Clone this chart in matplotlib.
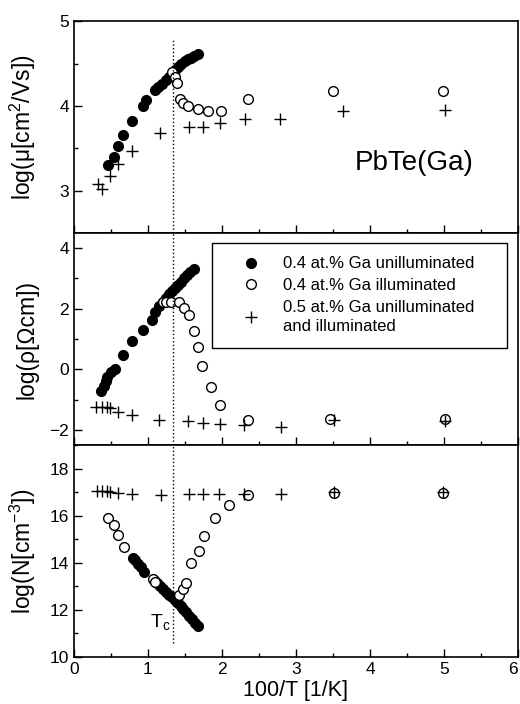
import matplotlib
matplotlib.use("Agg")
import matplotlib.pyplot as plt
from matplotlib.ticker import MultipleLocator

plt.rcParams['font.family'] = ['Liberation Sans', 'DejaVu Sans']
plt.rcParams['mathtext.fontset'] = 'custom'
plt.rcParams['mathtext.rm'] = 'Liberation Sans'
plt.rcParams['mathtext.it'] = 'Liberation Sans:italic'

# --- mobility, log(mu) ---
mu_fill_x = [0.46, 0.54, 0.59, 0.66, 0.79, 0.93, 0.97, 1.10, 1.14, 1.19, 1.24,
             1.29, 1.33, 1.37, 1.41, 1.45, 1.50, 1.54, 1.58, 1.62, 1.67]
mu_fill_y = [3.30, 3.40, 3.53, 3.66, 3.82, 4.00, 4.07, 4.19, 4.22, 4.26, 4.30,
             4.34, 4.38, 4.42, 4.46, 4.50, 4.53, 4.55, 4.57, 4.59, 4.61]
mu_open_x = [1.33, 1.37, 1.39, 1.43, 1.47, 1.54, 1.67, 1.81, 1.99, 2.35, 3.50, 4.99]
mu_open_y = [4.40, 4.34, 4.27, 4.08, 4.04, 4.00, 3.96, 3.94, 3.94, 4.08, 4.18, 4.18]
mu_plus_x = [0.32, 0.38, 0.48, 0.59, 0.79, 1.16, 1.55, 1.74, 1.98, 2.31, 2.79, 3.64, 5.02]
mu_plus_y = [3.08, 3.02, 3.17, 3.31, 3.47, 3.68, 3.75, 3.75, 3.80, 3.84, 3.84, 3.94, 3.95]

# --- resistivity, log(rho) ---
rho_fill_x = [0.37, 0.41, 0.43, 0.45, 0.50, 0.55, 0.66, 0.79, 0.93, 1.05, 1.09, 1.15,
              1.20, 1.25, 1.29, 1.33, 1.37, 1.41, 1.45, 1.49, 1.53, 1.57, 1.62]
rho_fill_y = [-0.72, -0.55, -0.40, -0.25, -0.10, 0.00, 0.48, 0.93, 1.30, 1.63, 1.90, 2.10,
              2.22, 2.35, 2.48, 2.60, 2.70, 2.80, 2.90, 3.00, 3.10, 3.20, 3.30]
rho_open_x = [1.20, 1.24, 1.31, 1.42, 1.49, 1.55, 1.62, 1.67, 1.73, 1.85, 1.97, 2.35, 3.46, 5.01]
rho_open_y = [2.21, 2.21, 2.23, 2.23, 2.03, 1.79, 1.28, 0.73, 0.11, -0.58, -1.19, -1.66, -1.65, -1.65]
rho_plus_x = [0.30, 0.38, 0.44, 0.48, 0.60, 0.78, 1.15, 1.54, 1.74, 1.97, 2.30, 2.80, 3.52, 5.01]
rho_plus_y = [-1.25, -1.25, -1.25, -1.27, -1.40, -1.51, -1.67, -1.72, -1.77, -1.81, -1.85, -1.90, -1.66, -1.70]

# --- carrier concentration, log(N) ---
n_fill_x = [0.80, 0.83, 0.87, 0.90, 0.94, 1.08, 1.12, 1.16, 1.20, 1.24, 1.28,
            1.32, 1.36, 1.40, 1.44, 1.48, 1.52, 1.56, 1.60, 1.64, 1.68]
n_fill_y = [14.22, 14.10, 13.95, 13.80, 13.60, 13.25, 13.12, 13.00, 12.88, 12.78, 12.65,
            12.55, 12.42, 12.30, 12.18, 12.02, 11.90, 11.75, 11.60, 11.45, 11.32]
n_open_x = [0.46, 0.54, 0.60, 0.68, 1.07, 1.09, 1.42, 1.48, 1.52, 1.58, 1.69, 1.76,
            1.90, 2.09, 2.35, 3.51, 4.99]
n_open_y = [15.90, 15.59, 15.19, 14.69, 13.32, 13.20, 12.65, 12.88, 13.13, 13.98, 14.52, 15.12,
            15.90, 16.47, 16.89, 16.98, 16.98]
n_plus_x = [0.31, 0.38, 0.44, 0.49, 0.60, 0.79, 1.17, 1.55, 1.74, 1.96, 2.30, 2.80, 3.51, 4.99]
n_plus_y = [17.03, 17.03, 17.03, 17.00, 16.98, 16.94, 16.89, 16.94, 16.94, 16.94, 16.94, 16.94, 17.00, 17.00]

Tc = 1.34

labels = ['0.4 at.% Ga unilluminated', '0.4 at.% Ga illuminated',
          '0.5 at.% Ga unilluminated\nand illuminated']

fig = plt.figure(figsize=(5.2, 7.04), dpi=100)
left, right = 0.1423, 0.996
bottom, top = 0.0668, 0.970
h = (top - bottom) / 3
ax_mu = fig.add_axes([left, bottom + 2 * h, right - left, h])
ax_rho = fig.add_axes([left, bottom + h, right - left, h])
ax_n = fig.add_axes([left, bottom, right - left, h])


def draw(ax, fx, fy, ox, oy, px, py):
    a = ax.plot(fx, fy, 'o', color='black', ms=7, mec='black', ls='none')[0]
    b = ax.plot(ox, oy, 'o', mfc='white', mec='black', mew=1.0, ms=7, ls='none')[0]
    c = ax.plot(px, py, '+', color='black', ms=8, mew=1.0, ls='none')[0]
    return a, b, c


draw(ax_mu, mu_fill_x, mu_fill_y, mu_open_x, mu_open_y, mu_plus_x, mu_plus_y)
handles = draw(ax_rho, rho_fill_x, rho_fill_y, rho_open_x, rho_open_y, rho_plus_x, rho_plus_y)
draw(ax_n, n_fill_x, n_fill_y, n_open_x, n_open_y, n_plus_x, n_plus_y)

ax_mu.set_ylim(2.5, 5)
ax_mu.yaxis.set_major_locator(MultipleLocator(1))
ax_mu.yaxis.set_minor_locator(MultipleLocator(0.5))
ax_rho.set_ylim(-2.5, 4.5)
ax_rho.yaxis.set_major_locator(MultipleLocator(2))
ax_rho.yaxis.set_minor_locator(MultipleLocator(1))
ax_n.set_ylim(10, 19)
ax_n.yaxis.set_major_locator(MultipleLocator(2))
ax_n.yaxis.set_minor_locator(MultipleLocator(1))

for ax in (ax_mu, ax_rho, ax_n):
    ax.set_xlim(0, 6)
    ax.xaxis.set_major_locator(MultipleLocator(1))
    ax.xaxis.set_minor_locator(MultipleLocator(0.5))
    ax.tick_params(which='both', direction='in', labelsize=12.5, width=1)
    ax.tick_params(which='major', length=6)
    ax.tick_params(which='minor', length=3)
    for s in ax.spines.values():
        s.set_linewidth(1.2)
    ax.yaxis.set_label_coords(-0.08, 0.5)

ax_mu.tick_params(axis='x', labelbottom=False)
ax_rho.tick_params(axis='x', labelbottom=False)
ax_n.set_xticks(range(0, 7))
ax_n.set_xticklabels([str(v) for v in range(0, 7)])
ax_n.get_xticklabels()[-1].set_horizontalalignment('right')

# dotted line at Tc through all three panels
ax_mu.axvline(Tc, ymin=0, ymax=(4.79 - 2.5) / 2.5, color='black', ls=':', lw=1)
ax_rho.axvline(Tc, color='black', ls=':', lw=1)
ax_n.axvline(Tc, ymin=(10.58 - 10) / 9, ymax=1, color='black', ls=':', lw=1)

ax_mu.set_ylabel('log(μ[cm$^{2}$/Vs])', fontsize=16.5)
ax_rho.set_ylabel('log(ρ[Ωcm])', fontsize=16.5)
ax_n.set_ylabel('log(N[cm$^{-3}$])', fontsize=16.5)
ax_n.set_xlabel('100/T [1/K]', fontsize=15.5, labelpad=2)

ax_mu.text(4.6, 3.33, 'PbTe(Ga)', fontsize=20, ha='center', va='center')
ax_n.text(1.17, 11.5, r'T$_{\mathrm{c}}$', fontsize=14, ha='center', va='center')

leg = ax_rho.legend(handles, labels, loc='upper left',
                    bbox_to_anchor=(0.31, 0.455, 0.665, 0.498), mode='expand',
                    borderaxespad=0, fontsize=12, frameon=True, fancybox=False,
                    edgecolor='black', framealpha=1, handlelength=3.1,
                    handletextpad=0.4, labelspacing=0.4, borderpad=0.8)
leg.get_frame().set_linewidth(1.0)
leg.get_texts()[2].set_linespacing(1.4)

fig.savefig('out.png', dpi=100)
